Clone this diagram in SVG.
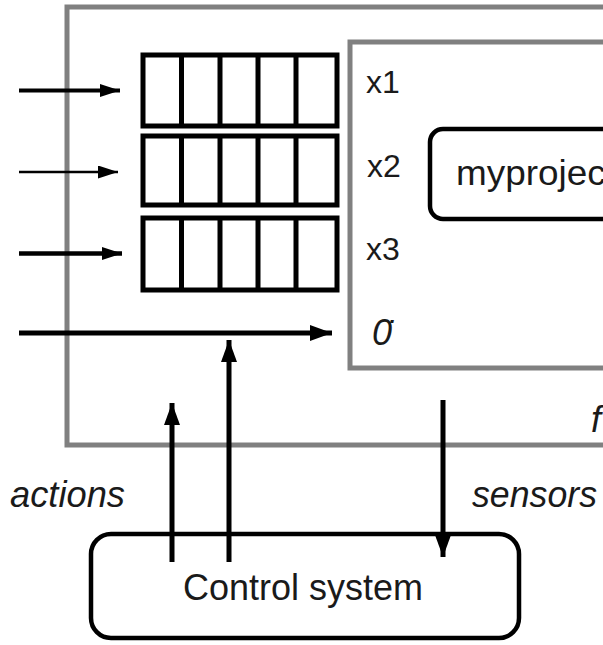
<svg xmlns="http://www.w3.org/2000/svg" width="603" height="645" viewBox="0 0 603 645">
<style>
.frame{fill:none;stroke:#808080;stroke-width:5}
.reg{fill:#fff;stroke:#000;stroke-width:5}
.div{stroke:#000;stroke-width:5}
.box{fill:#fff;stroke:#000;stroke-width:4.5}
.lbl{font-family:"Liberation Sans",Arial,sans-serif;fill:#1a1a1a}
.it{font-style:italic}
.con{stroke:#000;fill:none}
</style>
<defs>
<marker id="ah" viewBox="0 0 22 16" refX="22" refY="8" markerWidth="22" markerHeight="16" markerUnits="userSpaceOnUse" orient="auto">
<path d="M0,0 L22,8 L0,16 Z" fill="#000"/>
</marker>
<marker id="ahs" viewBox="0 0 20 13" refX="20" refY="6.5" markerWidth="20" markerHeight="13" markerUnits="userSpaceOnUse" orient="auto">
<path d="M0,0 L20,6.5 L0,13 Z" fill="#000"/>
</marker>
</defs>
<rect x="0" y="0" width="603" height="645" fill="#fff"/>
<g id="environment">
<rect class="frame" x="67" y="7" width="600" height="438"/>
<text class="lbl it" x="591" y="432" font-size="36">f</text>
</g>
<g id="registers">
<rect class="reg" x="143" y="55" width="194" height="71"/>
<rect class="reg" x="143" y="136" width="194" height="69"/>
<rect class="reg" x="143" y="218" width="194" height="72"/>
<path class="div" d="M181.5,55V126M220,55V126M258,55V126M296,55V126M181.5,136V205M220,136V205M258,136V205M296,136V205M181.5,218V290M220,218V290M258,218V290M296,218V290"/>
</g>
<g id="system">
<rect class="frame" x="350" y="42" width="300" height="326"/>
<text class="lbl" x="366" y="93" font-size="32">x1</text>
<text class="lbl" x="367" y="177" font-size="32">x2</text>
<text class="lbl" x="366" y="260" font-size="32">x3</text>
<text class="lbl it" x="372" y="345" font-size="36">0̇</text>
</g>
<g id="myproject">
<rect class="box" x="430" y="129" width="220" height="90" rx="13" stroke-width="5"/>
<text class="lbl" x="456" y="185" font-size="35" textLength="160" lengthAdjust="spacingAndGlyphs">myproject</text>
</g>
<g id="control">
<rect class="box" x="91" y="534" width="428" height="104" rx="20"/>
<text class="lbl" x="183" y="600" font-size="37" textLength="240" lengthAdjust="spacingAndGlyphs">Control system</text>
</g>
<g id="labels">
<text class="lbl it" x="10" y="507" font-size="36" textLength="115" lengthAdjust="spacingAndGlyphs">actions</text>
<text class="lbl it" x="472" y="507" font-size="36" textLength="125" lengthAdjust="spacingAndGlyphs">sensors</text>
</g>
<g id="connectors">
<line class="con" x1="19" y1="90.5" x2="120" y2="90.5" stroke-width="4" marker-end="url(#ahs)"/>
<line class="con" x1="19" y1="172" x2="118" y2="172" stroke-width="2.5" marker-end="url(#ahs)"/>
<line class="con" x1="19" y1="253.5" x2="122" y2="253.5" stroke-width="4.5" marker-end="url(#ahs)"/>
<line class="con" x1="19" y1="333" x2="332" y2="333" stroke-width="5" marker-end="url(#ah)"/>
<line class="con" x1="172" y1="562" x2="172" y2="403" stroke-width="5" marker-end="url(#ah)"/>
<line class="con" x1="229" y1="562" x2="229" y2="340" stroke-width="5" marker-end="url(#ah)"/>
<line class="con" x1="443" y1="400" x2="443" y2="557" stroke-width="5" marker-end="url(#ah)"/>
</g>
</svg>
